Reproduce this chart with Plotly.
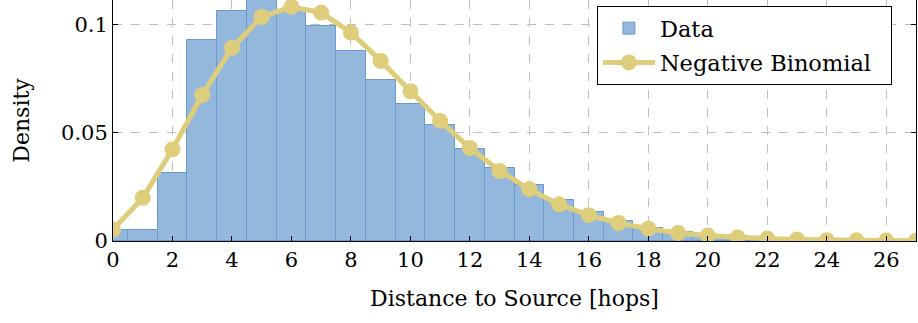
import plotly.graph_objects as go

hops = list(range(28))
data_density = [0.0053, 0.0053, 0.0316, 0.0927, 0.1060, 0.1150, 0.1060, 0.0990,
                0.0876, 0.0742, 0.0634, 0.0537, 0.0423, 0.0337, 0.0257, 0.0188,
                0.0134, 0.0091, 0.0060, 0.0042, 0.0028, 0.0018, 0.0011, 0.0007,
                0.0004, 0.0003, 0.0002, 0.0001]
negbin_density = [0.0053, 0.0199, 0.0423, 0.0674, 0.0891, 0.1034, 0.1080, 0.1054,
                  0.0962, 0.0831, 0.0691, 0.0554, 0.0429, 0.0323, 0.0239, 0.0169,
                  0.0119, 0.0083, 0.0057, 0.0037, 0.0025, 0.0016, 0.0011, 0.0007,
                  0.0004, 0.0003, 0.0002, 0.0001]
x_ticks = list(range(0, 27, 2))
y_ticks = [0, 0.05, 0.1]
y_tick_labels = ["0", "0.05", "0.1"]

FONT = "'DejaVu Serif', serif"
BAR_FILL = "rgb(148,184,220)"
BAR_EDGE = "rgb(104,154,208)"
LINE = "rgb(222,205,122)"
GRID = "rgb(190,190,190)"

fig = go.Figure()
fig.add_trace(go.Bar(
    x=hops, y=data_density, name="Data", width=1.0, legendgroup="a",
    marker=dict(color=BAR_FILL, line=dict(color=BAR_EDGE, width=1)),
))
fig.add_trace(go.Scatter(
    x=hops, y=negbin_density, name="Negative Binomial\u00a0\u00a0",
    mode="lines+markers", legendgroup="b",
    line=dict(color=LINE, width=5),
    marker=dict(color=LINE, size=16),
    cliponaxis=True,
))

fig.update_layout(
    width=918, height=323,
    margin=dict(l=113, r=2, t=0, b=82),
    plot_bgcolor="white", paper_bgcolor="white",
    font=dict(family=FONT, size=21, color="black"),
    bargap=0,
    showlegend=True,
    legend=dict(
        x=0.970, y=0.975, xanchor="right", yanchor="top",
        bordercolor="black", borderwidth=1, bgcolor="white",
        font=dict(family=FONT, size=22.5),
        itemwidth=52, tracegroupgap=2, traceorder="grouped",
    ),
)
fig.update_xaxes(
    range=[0, 27], tickmode="array", tickvals=x_ticks,
    showgrid=True, gridcolor=GRID, griddash="dash", gridwidth=1,
    showline=True, linecolor="black", linewidth=1,
    ticks="inside", ticklen=5, tickcolor="black",
    zeroline=False,
    tickfont=dict(size=21),
    title=dict(text="Distance to Source [hops]", standoff=19, font=dict(size=22)),
)
fig.update_yaxes(
    range=[0, 0.1112], tickmode="array", tickvals=y_ticks, ticktext=y_tick_labels,
    showgrid=True, gridcolor=GRID, griddash="dash", gridwidth=1,
    showline=True, linecolor="black", linewidth=1, mirror="ticks",
    ticks="inside", ticklen=5, tickcolor="black",
    zeroline=False,
    tickfont=dict(size=21),
    title=dict(text="Density", standoff=25, font=dict(size=22)),
)

fig.write_html("out.html")
